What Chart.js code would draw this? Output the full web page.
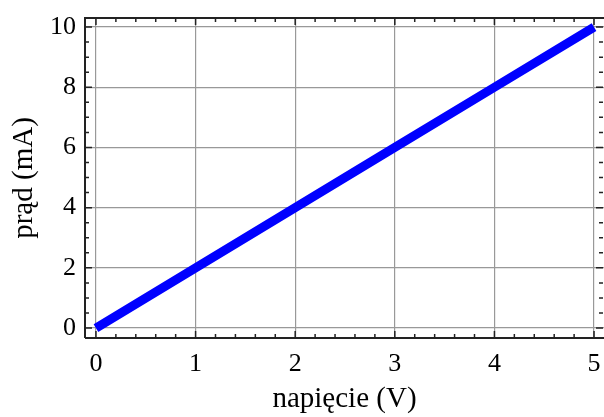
<!DOCTYPE html>
<html>
<head>
<meta charset="utf-8">
<script src="https://cdn.jsdelivr.net/npm/chart.js@4"></script>
<style>
  html, body { margin: 0; padding: 0; background: #fff; }
  #wrap { width: 604px; height: 417px; }
</style>
</head>
<body>
<div id="wrap"><canvas id="chart" width="604" height="417"></canvas></div>
<script>
// dane
const napiecie = [0, 1, 2, 3, 4, 5];      // V
const prad = [0, 2, 4, 6, 8, 10];          // mA
const xTicks = [0, 1, 2, 3, 4, 5];
const yTicks = [0, 2, 4, 6, 8, 10];
const xMinorStep = 0.2;
const yMinorStep = 0.5;

const serif = "'Liberation Serif', 'DejaVu Serif', serif";

// ramka z podzialka do srodka (jak w Mathematice)
const frameTicks = {
  id: "frameTicks",
  afterDatasetsDraw(chart) {
    const { ctx, chartArea: a, scales } = chart;
    const xs = scales.x, ys = scales.y;
    ctx.save();
    ctx.strokeStyle = "#222";
    ctx.lineWidth = 2;
    ctx.beginPath();
    ctx.moveTo(a.left, a.bottom);
    ctx.lineTo(a.left, a.top);
    ctx.lineTo(a.right + 2, a.top);
    ctx.moveTo(a.left, a.bottom);
    ctx.lineTo(a.right + 2, a.bottom);
    ctx.stroke();

    ctx.lineWidth = 1.5;
    ctx.beginPath();
    const xMin = xs.min, xMax = xs.max, yMin = ys.min, yMax = ys.max;
    for (let v = Math.ceil(xMin / xMinorStep) * xMinorStep; v <= xMax; v += xMinorStep) {
      const major = xTicks.some((t) => Math.abs(t - v) < 1e-6);
      const len = major ? 7 : 4;
      const px = xs.getPixelForValue(v);
      ctx.moveTo(px, a.bottom);
      ctx.lineTo(px, a.bottom - len);
      ctx.moveTo(px, a.top);
      ctx.lineTo(px, a.top + len);
    }
    for (let v = Math.ceil(yMin / yMinorStep) * yMinorStep; v <= yMax; v += yMinorStep) {
      const major = yTicks.some((t) => Math.abs(t - v) < 1e-6);
      const len = major ? 7 : 4;
      const py = ys.getPixelForValue(v);
      ctx.moveTo(a.left, py);
      ctx.lineTo(a.left + len, py);
      ctx.moveTo(a.right - 1, py);
      ctx.lineTo(a.right - 1 - len, py);
    }
    ctx.stroke();
    ctx.restore();
  },
};

new Chart(document.getElementById("chart"), {
  type: "scatter",
  data: {
    datasets: [
      {
        data: napiecie.map((v, i) => ({ x: v, y: prad[i] })),
        showLine: true,
        borderColor: "rgb(0, 0, 255)",
        borderWidth: 9,
        borderCapStyle: "butt",
        pointRadius: 0,
        fill: false,
      },
    ],
  },
  options: {
    responsive: false,
    animation: false,
    layout: { padding: { left: 0, top: 18, right: 0, bottom: 0 } },
    plugins: { legend: { display: false }, tooltip: { enabled: false } },
    scales: {
      x: {
        type: "linear",
        min: -0.11,
        max: 5.1,
        afterBuildTicks: (s) => { s.ticks = xTicks.map((v) => ({ value: v })); },
        afterFit: (s) => { s.height = 79; s.paddingLeft = 0; s.paddingRight = 0; },
        grid: { color: "#999", lineWidth: 1.2, drawTicks: false },
        border: { display: false },
        ticks: {
          padding: 11,
          color: "#000",
          maxRotation: 0,
          font: { family: serif, size: 26 },
        },
        title: {
          display: true,
          text: "napięcie (V)",
          color: "#000",
          font: { family: serif, size: 29 },
          padding: { top: 0, bottom: 0 },
        },
      },
      y: {
        type: "linear",
        min: -0.33,
        max: 10.3,
        afterBuildTicks: (s) => { s.ticks = yTicks.map((v) => ({ value: v })); },
        afterFit: (s) => { s.width = 85; s.paddingTop = 0; s.paddingBottom = 0; },
        grid: { color: "#999", lineWidth: 1.2, drawTicks: false },
        border: { display: false },
        ticks: {
          padding: 9,
          color: "#000",
          font: { family: serif, size: 26 },
        },
        title: {
          display: true,
          text: "prąd (mA)",
          color: "#000",
          font: { family: serif, size: 29 },
          padding: { top: 7, bottom: 0 },
        },
      },
    },
  },
  plugins: [frameTicks],
});
</script>
</body>
</html>
